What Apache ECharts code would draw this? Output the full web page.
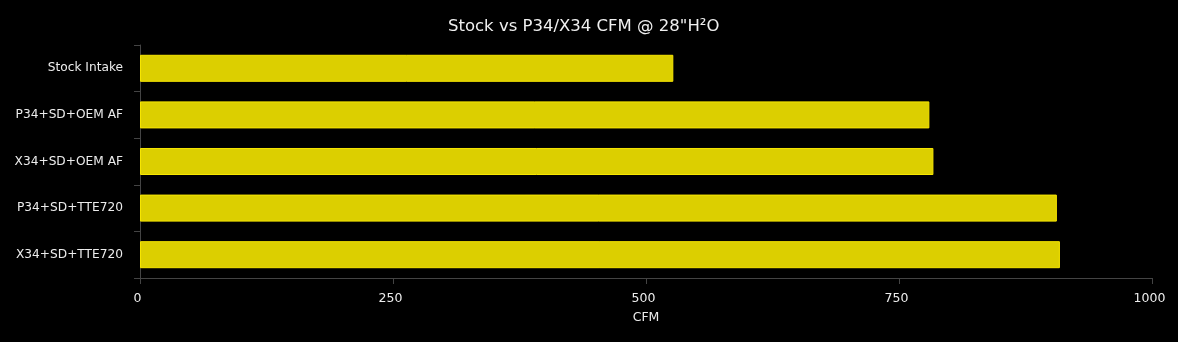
<!DOCTYPE html>
<html>
<head>
<meta charset="utf-8">
<script src="https://cdn.jsdelivr.net/npm/echarts@6/dist/echarts.min.js"></script>
<style>
html,body{margin:0;padding:0;background:#000;}
#c{width:1178px;height:342px;}
</style>
</head>
<body>
<div id="c"></div>
<script>
const categories = ["Stock Intake", "P34+SD+OEM AF", "X34+SD+OEM AF", "P34+SD+TTE720", "X34+SD+TTE720"];
const cfmValues = [527, 780, 784, 906, 909];
const xTicks = [0, 250, 500, 750, 1000];

const chart = echarts.init(document.getElementById('c'));
const font = "DejaVu Sans";
chart.setOption({
  backgroundColor: '#000',
  animation: false,
  title: {
    text: 'Stock vs P34/X34 CFM @ 28"H²O',
    left: 443,
    top: 13,
    textStyle: { color: '#f0f0f0', fontFamily: font, fontSize: 16.5, fontWeight: 'normal' }
  },
  grid: { left: 140, right: 26, top: 45, bottom: 64 },
  xAxis: {
    type: 'value',
    min: xTicks[0],
    max: xTicks[xTicks.length - 1],
    interval: 250,
    name: 'CFM',
    nameLocation: 'middle',
    nameGap: 33,
    nameTextStyle: { color: '#ececec', fontFamily: font, fontSize: 12.5 },
    axisLine: { show: true, lineStyle: { color: '#444' } },
    axisTick: { show: true, length: 6, lineStyle: { color: '#444' } },
    axisLabel: { color: '#ececec', fontFamily: font, fontSize: 12.5, margin: 14, padding: [0, 5, 0, 0],
      formatter: function (v) { return String(v); } },
    splitLine: { show: false }
  },
  yAxis: {
    type: 'category',
    data: categories,
    inverse: true,
    axisLine: { show: true, lineStyle: { color: '#444' } },
    axisTick: { show: true, length: 6, lineStyle: { color: '#444' } },
    axisLabel: { color: '#ececec', fontFamily: font, fontSize: 12.2, margin: 17 },
    splitLine: { show: false }
  },
  series: [{
    type: 'bar',
    data: cfmValues,
    barCategoryGap: '42%',
    itemStyle: { color: '#dccf00', borderColor: '#f7e600', borderWidth: 1 }
  }]
});
</script>
</body>
</html>
